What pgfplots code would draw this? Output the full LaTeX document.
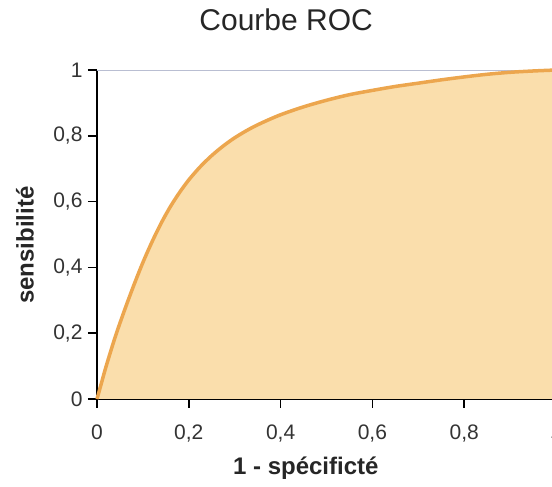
\documentclass[border=0pt]{standalone}
\usepackage{pgfplots}
\pgfplotsset{compat=1.18}
\usepackage{fontspec}
\setmainfont{Liberation Sans}
\definecolor{peach}{RGB}{250,222,172}
\definecolor{rocline}{RGB}{236,166,78}
\definecolor{topline}{RGB}{185,190,210}
\pgfplotstableread{
x y
0 0
0.01 0.05
0.02 0.10
0.04 0.19
0.06 0.27
0.08 0.345
0.10 0.415
0.12 0.478
0.14 0.535
0.16 0.585
0.18 0.628
0.20 0.666
0.225 0.706
0.25 0.740
0.275 0.769
0.30 0.794
0.33 0.819
0.36 0.840
0.40 0.864
0.45 0.888
0.50 0.908
0.55 0.925
0.60 0.938
0.65 0.950
0.70 0.960
0.75 0.970
0.80 0.979
0.85 0.987
0.90 0.993
0.95 0.997
1.00 1.000
}\roc
\begin{document}
\begin{tikzpicture}
\useasboundingbox (-97pt,-88pt) rectangle (455pt,399pt);
\clip (-97pt,-88pt) rectangle (455pt,399pt);
\begin{axis}[
  at={(0pt,0pt)}, anchor=origin,
  scale only axis, width=459pt, height=329pt,
  xmin=0, xmax=1, ymin=0, ymax=1,
  axis x line*=bottom, axis y line*=left,
  axis line style={black, line width=1.6pt, -},
  xtick={0,0.2,0.4,0.6,0.8,1},
  ytick={0,0.2,0.4,0.6,0.8,1},
  xticklabels={0,{0,2},{0,4},{0,6},{0,8},1},
  yticklabels={0,{0,2},{0,4},{0,6},{0,8},1},
  tick align=outside,
  major tick length=9pt,
  tick style={black, line width=1.6pt},
  ticklabel style={font=\fontsize{21}{25}\selectfont, text=black!80},
  xticklabel style={yshift=-13pt},
  yticklabel style={xshift=-2pt},
  title={Courbe ROC},
  title style={at={(axis description cs:0.412,1.134)}, anchor=center, font=\fontsize{30}{36}\selectfont, text=black!85},
  xlabel={\textbf{1 - spécificté}},
  xlabel style={at={(axis description cs:0.455,-0.21)}, anchor=center, font=\fontsize{24}{28}\selectfont, text=black!85},
  ylabel={\textbf{sensibilité}},
  ylabel style={at={(axis description cs:-0.157,0.468)}, anchor=center, rotate=0, font=\fontsize{24}{28}\selectfont, text=black!85},
  clip=false,
]
\addplot[topline, line width=0.8pt, forget plot] coordinates {(0,1) (1,1)};
\addplot[fill=peach, draw=none, smooth, tension=0.5] table[x=x, y=y] {\roc} \closedcycle;
\addplot[rocline, line width=3.5pt, smooth, tension=0.5] table[x=x, y=y] {\roc};
\end{axis}
\end{tikzpicture}
\end{document}
